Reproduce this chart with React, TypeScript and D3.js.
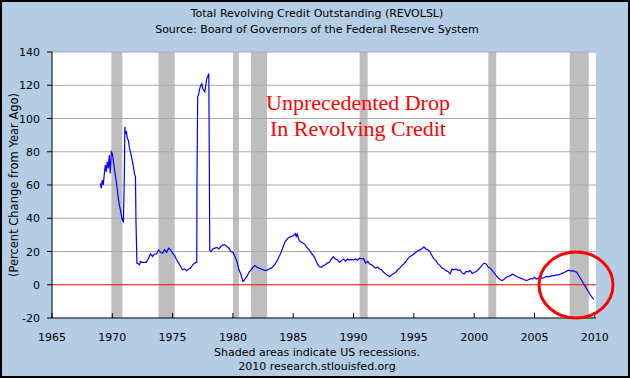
import React from "react";
import * as d3 from "d3";

const dates = [
  1969.0, 1969.08, 1969.17, 1969.25, 1969.33, 1969.42, 1969.5, 1969.58, 1969.67, 1969.75, 1969.83, 1969.92,
  1970.0, 1970.08, 1970.17, 1970.25, 1970.33, 1970.42, 1970.5, 1970.58, 1970.67, 1970.75, 1970.83, 1970.92,
  1971.0, 1971.04, 1971.08, 1971.17, 1971.25, 1971.33, 1971.42, 1971.5, 1971.58, 1971.67, 1971.75, 1971.83, 1971.92,
  1971.96, 1972.04, 1972.17, 1972.25, 1972.33, 1972.5, 1972.67, 1972.83,
  1973.0, 1973.17, 1973.33, 1973.5, 1973.67, 1973.83, 1974.0, 1974.17, 1974.33, 1974.5, 1974.67, 1974.83,
  1975.0, 1975.17, 1975.33, 1975.5, 1975.67, 1975.83, 1976.0, 1976.17, 1976.33, 1976.5, 1976.67, 1976.83,
  1977.0, 1977.02, 1977.08, 1977.17, 1977.25, 1977.33, 1977.42, 1977.5, 1977.58, 1977.67, 1977.75, 1977.83, 1978.0,
  1978.04, 1978.08, 1978.17, 1978.25, 1978.33, 1978.5, 1978.67, 1978.83,
  1979.0, 1979.17, 1979.33, 1979.5, 1979.67, 1979.83, 1980.0, 1980.17, 1980.33, 1980.5, 1980.67, 1980.83, 1980.92,
  1981.0, 1981.17, 1981.33, 1981.5, 1981.67, 1981.83, 1982.0, 1982.17, 1982.33, 1982.5, 1982.67, 1982.83,
  1983.0, 1983.17, 1983.33, 1983.5, 1983.67, 1983.83, 1984.0, 1984.17, 1984.33, 1984.5, 1984.67, 1984.83,
  1985.0, 1985.17, 1985.25, 1985.33, 1985.5, 1985.67, 1985.83, 1986.0, 1986.17, 1986.33, 1986.5, 1986.67, 1986.83,
  1987.0, 1987.17, 1987.33, 1987.5, 1987.67, 1987.83, 1988.0, 1988.17, 1988.33, 1988.5, 1988.67, 1988.83,
  1989.0, 1989.17, 1989.33, 1989.5, 1989.67, 1989.83, 1990.0, 1990.17, 1990.33, 1990.5, 1990.67, 1990.83,
  1991.0, 1991.17, 1991.33, 1991.5, 1991.67, 1991.83, 1992.0, 1992.17, 1992.33, 1992.5, 1992.67, 1992.83,
  1993.0, 1993.17, 1993.33, 1993.5, 1993.67, 1993.83, 1994.0, 1994.17, 1994.33, 1994.5, 1994.67, 1994.83,
  1995.0, 1995.17, 1995.33, 1995.5, 1995.67, 1995.83, 1996.0, 1996.17, 1996.33, 1996.5, 1996.67, 1996.83,
  1997.0, 1997.17, 1997.33, 1997.5, 1997.67, 1997.83, 1998.0, 1998.17, 1998.33, 1998.5, 1998.67, 1998.83,
  1999.0, 1999.17, 1999.33, 1999.5, 1999.67, 1999.83, 2000.0, 2000.17, 2000.33, 2000.5, 2000.67, 2000.83,
  2001.0, 2001.17, 2001.33, 2001.5, 2001.67, 2001.83, 2002.0, 2002.17, 2002.33, 2002.5, 2002.67, 2002.83,
  2003.0, 2003.17, 2003.33, 2003.5, 2003.67, 2003.83, 2004.0, 2004.17, 2004.33, 2004.5, 2004.67, 2004.83,
  2005.0, 2005.17, 2005.33, 2005.5, 2005.67, 2005.83, 2006.0, 2006.17, 2006.33, 2006.5, 2006.67, 2006.83,
  2007.0, 2007.17, 2007.33, 2007.5, 2007.67, 2007.83, 2008.0, 2008.17, 2008.33, 2008.5, 2008.67, 2008.83,
  2009.0, 2009.17, 2009.33, 2009.5, 2009.67, 2009.83, 2009.92,
];

const pctChange = [
  61, 58, 63, 60, 66, 72, 68, 74, 70, 78, 67, 80,
  79, 75, 70, 66, 62, 57, 52, 48, 45, 42, 39, 38,
  67, 95, 91, 92, 88, 87, 82, 80, 77, 74, 71, 67, 65,
  39, 13, 12.5, 12, 14, 13.5, 13.5, 13.5,
  16, 18.5, 17, 18.5, 18.5, 21, 19.5, 19, 21, 19.5, 22, 21,
  19, 17.5, 15, 13, 11, 9, 9.5, 8.5, 9.5, 10, 12, 13,
  13.5, 64, 113, 115, 118, 120, 121, 118, 117, 116, 120, 124, 127,
  74, 21, 20, 20.5, 21.5, 22, 22.5, 21.5,
  23, 24, 24, 23, 22, 20, 19.5, 17, 14, 9, 6, 2, 2.5,
  3.5, 5, 7.5, 9, 10.5, 11.5, 10.5, 10, 9.5, 9, 8.5, 8.8,
  9.5, 10, 11, 12.5, 14.5, 17, 19.5, 23, 26, 27.5, 28.5, 29,
  29.5, 30.7, 29, 30.5, 26.5, 25.5, 25, 24, 22, 21, 19, 17.5, 15.5,
  12.5, 10.8, 10.5, 11.5, 12, 13, 13.5, 15.5, 16.8, 15.5, 15, 13.5,
  14.5, 15.5, 14.2, 15.5, 14.8, 15.2, 15, 15.5, 14.8, 16, 15.5, 15.8,
  13, 14, 12.5, 12, 10.8, 10, 10.5, 9.5, 9, 7.5, 6.5, 5.5,
  5, 6, 6.8, 7.5, 9, 10, 11.5, 12.5, 14, 15.5, 17, 17.5,
  18.5, 19.5, 20.5, 21, 21.7, 22.8, 21.5, 21, 20, 17.5, 15.5, 14.5,
  12.5, 11.5, 10, 9.5, 8.5, 8, 6.5, 9.5, 9, 9.5, 8.5, 9,
  7, 6.5, 8, 7.8, 8.5, 6.8, 7.5, 8, 9, 10.5, 12, 13,
  12.5, 10.5, 10, 8.5, 7, 5.5, 4, 3, 2.5, 3.5, 4.5, 5,
  5.5, 6.3, 5.8, 5, 4.5, 4, 3.5, 3, 2.5, 3, 3.5, 3.5,
  4.5, 3.5, 4, 4.2, 3.8, 4.5, 5, 4.8, 5.2, 5.5, 5.5, 6,
  6, 6.5, 7, 7.5, 8.2, 8.8, 8.3, 8.5, 8, 7.5, 5.5, 3.5,
  1.5, -0.5, -2.5, -4.5, -6.5, -8, -8.8,
];

const recessionStart = [1969.92, 1973.83, 1980.0, 1981.5, 1990.5, 2001.17, 2007.92];
const recessionEnd = [1970.83, 1975.17, 1980.5, 1982.83, 1991.17, 2001.83, 2009.5];

const yTicks = [-20, 0, 20, 40, 60, 80, 100, 120, 140];
const xTicks = [1965, 1970, 1975, 1980, 1985, 1990, 1995, 2000, 2005, 2010];

const W = 630;
const H = 378;
const plotL = 52;
const plotR = 596;
const plotT = 52;
const plotB = 318;
const sans = "'DejaVu Sans', Verdana, sans-serif";

export default function App() {
  const x = d3.scaleLinear().domain([1965, 2010.1]).range([plotL, plotR]);
  const y = d3.scaleLinear().domain([-20, 140]).range([plotB, plotT]);
  const data = dates.map((d, i) => ({ d, v: pctChange[i] }));
  const line = d3
    .line<{ d: number; v: number }>()
    .x((p) => x(p.d))
    .y((p) => y(p.v));

  return (
    <svg width={W} height={H} style={{ position: "absolute", left: 0, top: 0 }}>
      <rect x={0} y={0} width={W} height={H} fill="#b4cde5" />
      <rect x={1} y={1} width={W - 2} height={H - 2} fill="none" stroke="#000" strokeWidth={2} />
      <text x={317} y={17} textAnchor="middle" fontFamily={sans} fontSize={11} fill="#000">
        Total Revolving Credit Outstanding (REVOLSL)
      </text>
      <text x={317} y={33} textAnchor="middle" fontFamily={sans} fontSize={11} fill="#000">
        Source: Board of Governors of the Federal Reserve System
      </text>

      <rect x={plotL} y={plotT} width={plotR - plotL} height={plotB - plotT} fill="#fff" />

      {recessionStart.map((s, i) => (
        <rect
          key={"r" + i}
          x={x(s)}
          y={plotT}
          width={x(recessionEnd[i]) - x(s)}
          height={plotB - plotT}
          fill="#bebebe"
        />
      ))}

      {yTicks
        .filter((t) => t > 0)
        .map((t) => (
          <line key={"g" + t} x1={plotL} x2={plotR} y1={y(t)} y2={y(t)} stroke="#aaaaaa" strokeWidth={1} />
        ))}

      <line x1={plotL} x2={plotR} y1={y(0)} y2={y(0)} stroke="#ff0000" strokeWidth={1.2} />

      <path d={line(data) || ""} fill="none" stroke="#0000ff" strokeWidth={1.2} />

      <line x1={plotL} x2={plotL} y1={plotT} y2={plotB} stroke="#000" strokeWidth={1} />
      <line x1={plotL} x2={plotR} y1={plotB} y2={plotB} stroke="#000" strokeWidth={1} />

      {yTicks.map((t) => (
        <g key={"yt" + t}>
          <line x1={plotL - 5} x2={plotL} y1={y(t)} y2={y(t)} stroke="#000" strokeWidth={1} />
          <text x={40} y={y(t) + 4} textAnchor="end" fontFamily={sans} fontSize={11} fill="#000">
            {t}
          </text>
        </g>
      ))}

      {xTicks.map((t) => (
        <g key={"xt" + t}>
          <line x1={x(t)} x2={x(t)} y1={plotB - 5} y2={plotB} stroke="#000" strokeWidth={1} />
          <text x={x(t)} y={341} textAnchor="middle" fontFamily={sans} fontSize={11} fill="#000">
            {t}
          </text>
        </g>
      ))}

      <text
        transform={`translate(18, ${(plotT + plotB) / 2}) rotate(-90)`}
        textAnchor="middle"
        fontFamily={sans}
        fontSize={11.5}
        fill="#000"
      >
        (Percent Change from Year Ago)
      </text>

      <text x={317} y={356} textAnchor="middle" fontFamily={sans} fontSize={11} fill="#000">
        Shaded areas indicate US recessions.
      </text>
      <text x={317} y={370} textAnchor="middle" fontFamily={sans} fontSize={11} fill="#000">
        2010 research.stlouisfed.org
      </text>

      <text x={358} y={110} textAnchor="middle" fontFamily="'Liberation Serif', 'Times New Roman', serif" fontSize={22} fill="#ff0000">
        Unprecedented Drop
      </text>
      <text x={358} y={136} textAnchor="middle" fontFamily="'Liberation Serif', 'Times New Roman', serif" fontSize={22} fill="#ff0000">
        In Revolving Credit
      </text>

      <ellipse cx={576} cy={285} rx={37} ry={33} fill="none" stroke="#ff0000" strokeWidth={3} />
    </svg>
  );
}
